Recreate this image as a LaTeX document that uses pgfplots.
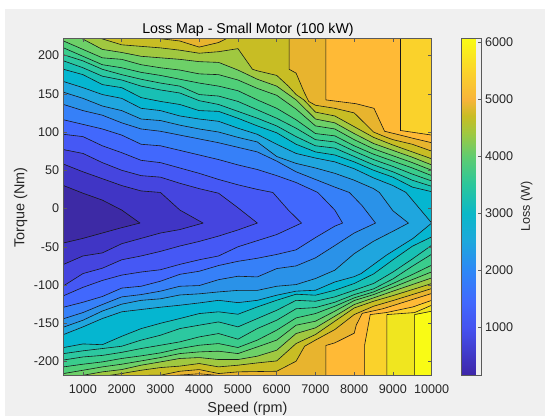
\documentclass[border=0pt]{standalone}
\usepackage{fontspec}
\setmainfont{Liberation Sans}
\usepackage{pgfplots}
\pgfplotsset{compat=1.18}
\definecolor{b0}{HTML}{3D2AA5}\definecolor{b1}{HTML}{4035C5}\definecolor{b2}{HTML}{4545DF}
\definecolor{b3}{HTML}{4558F5}\definecolor{b4}{HTML}{4168FD}\definecolor{b5}{HTML}{3680F8}
\definecolor{b6}{HTML}{2A92E8}\definecolor{b7}{HTML}{1FA6DE}\definecolor{b8}{HTML}{05B6D0}
\definecolor{b9}{HTML}{18C0B4}\definecolor{b10}{HTML}{2CC8A0}\definecolor{b11}{HTML}{3ACC8C}
\definecolor{b12}{HTML}{50CF78}\definecolor{b13}{HTML}{6DD068}\definecolor{b14}{HTML}{A0C840}
\definecolor{b15}{HTML}{C8BD24}\definecolor{b16}{HTML}{E8B42E}\definecolor{b17}{HTML}{FFBA36}
\definecolor{b18}{HTML}{FAD22B}\definecolor{b19}{HTML}{F0E61F}\definecolor{b20}{HTML}{F9FB15}
\definecolor{tx}{HTML}{262626}\definecolor{ax}{HTML}{5A5A5A}
\newcommand{\poly}[2]{\edef\tmp{\noexpand\addplot[fill=#1,draw=#1,line width=0.25pt,forget plot] coordinates {#2} --cycle;}\tmp}
\newcommand{\cln}[1]{\edef\tmp{\noexpand\addplot[draw=black!90,line width=0.6pt,forget plot] coordinates {#1};}\tmp}
% upper branches
\def\upA{(500,30)(1000,20)(1500,11)(2000,-2)(2470,-19)}
\def\upB{(500,58)(1000,48)(1500,39)(2000,30)(2500,23)(3000,21)(3500,-2)(4100,-19)}
\def\upC{(500,77)(1000,72)(1500,60)(2000,50)(2500,43)(3000,41)(3500,33)(4000,26)(4500,20)(5000,1)(5500,-19)}
\def\upD{(500,97)(1000,94)(1500,82)(2000,73)(2500,63)(3000,60)(3500,53)(4000,46)(4500,38)(5000,31)(5500,25)(5900,21)(6300,-2)(6640,-19)}
\def\upE{(500,116)(1000,110)(1500,104)(2000,96)(2500,84)(3000,82)(3500,76)(4000,70)(4500,64)(5000,57)(5500,51)(6000,43)(6500,34)(7060,21)(7500,-2)(7700,-19)}
\def\upF{(500,136)(1000,128)(1500,122)(2000,112)(2500,104)(3000,101)(3500,96)(4000,91)(4500,86)(5000,80)(5500,74)(6000,62)(6500,48)(7000,38)(7500,28)(7875,21)(8200,4)(8550,-19)}
\def\upG{(500,152)(1000,144)(1500,134)(2000,128)(2500,117)(3000,115)(3500,109)(4000,104)(4500,100)(5000,93)(5500,87)(6000,68)(6500,59)(7000,53)(7500,46)(8000,37)(8500,26)(8650,21)(9000,-3)(9400,-19)}
\def\upH{(500,166)(1000,158)(1500,149)(2000,144)(2500,131)(3000,128)(3500,121)(4000,117)(4500,114)(5000,105)(5500,97)(6000,84)(6500,72)(7000,66)(7500,61)(8000,52)(8500,40)(9000,30)(9337,21)(10000,-19)}
\def\upI{(500,182)(1000,175)(1500,162)(2000,158)(2500,145)(3000,140)(3500,136)(4000,128)(4500,127)(5000,118)(5500,108)(6000,99)(6500,84)(7000,74)(7500,70)(8000,61)(8500,50)(9000,41)(9500,28)(10000,22)}
\def\upJ{(500,193)(1000,184)(1500,173)(2000,168)(2500,160)(3000,155)(3500,151)(4000,141)(4500,136)(5000,127)(5500,118)(6000,108)(6500,94)(7000,82)(7500,79)(8000,68)(8500,57)(9000,48)(9500,37)(10000,29)}
\def\upK{(500,201)(1000,193)(1500,182)(2000,175)(2500,169)(3000,164)(3500,160)(4000,149)(4500,147)(5000,140)(5500,129)(6000,118)(6500,105)(7000,90)(7500,87)(8000,75)(8500,64)(9000,55)(9500,45)(10000,36)}
\def\upL{(500,210)(1000,199)(1500,188)(2000,184)(2500,178)(3000,174)(3500,169)(4000,164)(4500,160)(5000,154)(5500,142)(6000,131)(6500,116)(7000,98)(7500,95)(8000,82)(8500,71)(9000,62)(9500,53)(10000,43)}
\def\upM{(500,219)(1000,208)(1500,197)(2000,195)(2500,188)(3000,184)(3500,181)(4000,176)(4500,175)(5000,168)(5500,157)(6000,148)(6500,130)(7000,108)(7500,104)(8000,90)(8500,78)(9000,69)(9500,60)(10000,50)}
\def\upN{(980,222)(1500,208)(2000,204)(2500,199)(3000,197)(3500,195)(4000,192)(4500,191)(5000,181)(5500,169)(6000,160)(6500,142)(7000,117)(7500,112)(8000,98)(8500,85)(9000,76)(9500,67)(10000,57)}
\def\upO{(1480,222)(2000,214)(2500,212)(3000,210)(3500,207)(4000,203)(4500,205)(5000,209)(5375,182)(5500,180)(6000,174)(6300,160)(6500,149)(6700,142)(7000,126)(7500,121)(8000,107)(8500,93)(9000,83)(9500,74)(10000,65)}
\def\upPa{(3000,222)(3500,219)(4000,211)(4500,217)(4700,222)}
\def\upPb{(6322,222)(6322,182)(6500,177)(6700,153)(6825,140)(7000,135)(7500,131)(8000,125)(8500,100)(8784,94)(9000,90)(9500,84)(10000,75)}
\def\upQ{(7269,222)(7269,142)(8050,137)(8510,131)(8784,101)(9190,96)(9500,92)(10000,86)}
\def\upR{(9196,222)(9196,102)(10000,96)}
% lower branches
\def\loA{(500,-45)(1000,-39)(1500,-32)(2000,-25)(2470,-19)}
\def\loB{(500,-73)(1000,-62)(1500,-58)(2000,-46)(2500,-39)(3000,-32)(3500,-27.5)(4100,-19)}
\def\loC{(500,-101)(1000,-85)(1500,-78)(2000,-67)(2500,-62)(3000,-56)(3500,-49)(4000,-43)(4500,-36)(5000,-28)(5500,-19)}
\def\loD{(500,-114)(1000,-103)(1500,-94)(2000,-87)(2500,-83)(3000,-80)(3500,-73)(4000,-67)(4500,-62)(5000,-50)(5500,-42)(6000,-34)(6640,-19)}
\def\loE{(500,-129)(1000,-122.5)(1500,-115)(2000,-104)(2500,-101.6)(3000,-95)(3500,-86)(4000,-82)(4500,-74.5)(5000,-69)(5500,-65)(6000,-60)(6500,-54)(7000,-38)(7500,-23)(7700,-19)}
\def\loF{(500,-144)(1000,-136)(1500,-125.5)(2000,-115.5)(2500,-112.5)(3000,-108)(3500,-101.6)(4000,-100.7)(4500,-93)(5000,-88.5)(5500,-89.4)(6000,-78.5)(6500,-75)(7000,-64.5)(7500,-48.4)(8000,-32)(8550,-19)}
\def\loG{(500,-155)(1000,-146)(1500,-134)(2000,-125)(2500,-120)(3000,-118)(3500,-113)(4000,-111.5)(4500,-109)(5000,-107)(5500,-107)(6000,-101.6)(6500,-99.4)(7000,-91.5)(7500,-80.6)(8000,-59)(8500,-42.7)(9000,-29.7)(9400,-19)}
\def\loH{(500,-164.7)(1000,-154.7)(1500,-143.8)(2000,-135)(2500,-132)(3000,-129)(3500,-126.4)(4000,-123.4)(4500,-120)(5000,-123)(5500,-120)(6000,-113.3)(6500,-108)(7000,-106.8)(7500,-96)(8000,-89)(8180,-85)(8830,-61)(9520,-39)(10000,-19)}
\def\loI{(500,-181.7)(1000,-177)(1500,-178)(2000,-167)(2500,-157)(3000,-150)(3500,-143.8)(4000,-137.3)(4500,-135)(5000,-138.2)(5500,-128.6)(6000,-119.9)(6500,-112)(7000,-113.3)(7500,-106.8)(8000,-98)(8500,-85.5)(9000,-67)(9500,-49.3)(10000,-37)}
\def\loJ{(500,-189.6)(1000,-186)(1500,-183)(2000,-180)(2500,-172)(3000,-165.6)(3500,-156.9)(4000,-152.5)(4500,-148.2)(5000,-154.7)(5500,-143.8)(6000,-133)(6500,-120)(7000,-121.2)(7500,-115.5)(8000,-106.8)(8500,-98)(9000,-83)(9500,-66)(10000,-48)}
\def\loK{(500,-198)(1000,-194)(1500,-192)(2000,-188)(2500,-183)(3000,-178.7)(3500,-174.3)(4000,-167.8)(4500,-163.4)(5000,-170.8)(5500,-156.9)(6000,-146)(6500,-131)(7000,-129.5)(7500,-122.5)(8000,-112.5)(8500,-105)(9000,-92)(9500,-75.4)(10000,-59.7)}
\def\loL{(500,-207)(1000,-203.5)(1500,-200.5)(2000,-196)(2500,-192.6)(3000,-188.7)(3500,-183)(4000,-178.7)(4500,-176.5)(5000,-181.7)(5500,-172)(6000,-159)(6500,-143)(7000,-137.3)(7500,-127.7)(8000,-116.8)(8500,-109)(9000,-98)(9500,-86.3)(10000,-74)}
\def\loM{(500,-215.7)(1000,-211.4)(1500,-207)(2000,-203.5)(2500,-199.2)(3000,-194.8)(3500,-189.6)(4000,-187.4)(4500,-186.5)(5000,-189.6)(5500,-180.9)(6000,-172)(6500,-152.5)(7000,-147.3)(7500,-134.2)(8000,-120.3)(8500,-112.5)(9000,-102.9)(9500,-92.9)(10000,-82.8)}
\def\loN{(1000,-218)(1500,-213.5)(2000,-210.5)(2500,-204.8)(3000,-200.5)(3500,-196)(4000,-194.8)(4500,-197.4)(5000,-197.4)(5500,-193)(6000,-185.2)(6500,-163.4)(7000,-156)(7500,-140.8)(8000,-125.5)(8500,-116.8)(9000,-108)(9500,-99.4)(10000,-90.7)}
\def\loO{(1700,-218)(2000,-215.7)(2500,-211.4)(3000,-207.9)(3500,-206)(4000,-202.6)(4500,-207)(5000,-204.8)(5500,-201.8)(6000,-199.2)(6500,-176.5)(7000,-164.7)(7500,-147.3)(8000,-130)(8500,-121.2)(9000,-113.8)(9500,-106)(10000,-98)}
\def\loP{(2680,-218)(3000,-217.9)(3500,-212.7)(4000,-210.5)(4500,-215.7)(5000,-213.5)(5500,-213.1)(6000,-212.7)(6500,-199.6)(6720,-180)(7000,-172)(7500,-158.2)(8000,-138.6)(8500,-127.7)(9000,-120.3)(9500,-112.5)(10000,-104.6)}
\def\loQa{(3420,-218)(4000,-216)(4450,-218)}
\def\loQb{(7269,-218)(7269,-179)(7500,-175.6)(8000,-163)(8052,-152.5)(8207,-137)(8741,-131)(10000,-111)}
\def\loR{(8267,-218)(8267,-179)(8413,-138.6)(8827,-136)(9517,-128.6)(10000,-120)}
\def\loS{(8845,-218)(8845,-138.6)(9560,-136)(10000,-126.4)}
\def\loT{(9560,-218)(9560,-138.6)(10000,-134.2)}
\def\M{(500,-19)}
\def\Rr{(10000,-19)}
\def\TL{(500,222)}
\def\BL{(500,-218)}
\begin{document}
\begin{tikzpicture}[x=1pt,y=1pt]
\fill[white] (0,0) rectangle (545,416);
\fill[black!6] (5,0) rectangle (545,407);
\begin{axis}[
  at={(63.6pt,40.7pt)},anchor=south west,scale only axis,width=368.1pt,height=336.6pt,
  xmin=500,xmax=10000,ymin=-218,ymax=222,
  xtick={1000,2000,...,10000},ytick={-200,-150,...,200},
  scaled x ticks=false,scaled y ticks=false,
  axis on top,tick align=inside,major tick length=3.7pt,
  axis line style={ax,line width=0.6pt},tick style={ax,line width=0.5pt},
  tick label style={font=\fontsize{12.6}{14}\selectfont,text=tx},
  /pgf/number format/assume math mode=true,/pgf/number format/1000 sep={},
  xticklabel style={yshift=-6pt},yticklabel style={xshift=-1pt},
  colormap={par}{rgb255(0)=(62,38,168);rgb255(14)=(69,82,240);rgb255(22)=(65,105,253);rgb255(31)=(45,135,247);rgb255(40)=(29,168,220);rgb255(48)=(11,184,200);rgb255(57)=(44,199,154);rgb255(65)=(96,204,112);rgb255(72)=(160,200,64);rgb255(77)=(200,189,36);rgb255(82)=(248,180,58);rgb255(90)=(251,210,43);rgb255(100)=(249,251,21)},
  colorbar,point meta min=165,point meta max=6058,
  colorbar style={at={(1.0804,0)},anchor=south west,scale only axis,width=20.3pt,height=336.6pt,
    ytick={1000,2000,...,6000},yticklabel pos=right,ytick pos=right,tick align=inside,
    major tick length=3.7pt,axis line style={ax,line width=0.6pt},tick style={ax,line width=0.5pt},
    tick label style={font=\fontsize{12.6}{14}\selectfont,text=tx},
    /pgf/number format/assume math mode=true,/pgf/number format/1000 sep={}},
]
\poly{b20}{(500,-218)(10000,-218)(10000,222)(500,222)}
% region below each level, painted from the highest level down
\poly{b19}{\BL\loT\Rr\M\TL(10000,222)\Rr\M}
\poly{b18}{\BL\loS\Rr\M\TL(10000,222)\Rr\M}
\poly{b17}{\M\TL\upR\Rr}\poly{b17}{\M\BL\loR\Rr}
\poly{b16}{\M\TL\upQ\Rr}\poly{b16}{\M\BL\loQa\loQb\Rr}
\poly{b15}{\M\TL\upPa\upPb\Rr}\poly{b15}{\M\BL\loP\Rr}
\poly{b14}{\M\TL\upO\Rr}\poly{b14}{\M\BL\loO\Rr}
\poly{b13}{\M\TL\upN\Rr}\poly{b13}{\M\BL\loN\Rr}
\poly{b12}{\M\upM\Rr}\poly{b12}{\M\loM\Rr}
\poly{b11}{\M\upL\Rr}\poly{b11}{\M\loL\Rr}
\poly{b10}{\M\upK\Rr}\poly{b10}{\M\loK\Rr}
\poly{b9}{\M\upJ\Rr}\poly{b9}{\M\loJ\Rr}
\poly{b8}{\M\upI\Rr}\poly{b8}{\M\loI\Rr}
\poly{b7}{\M\upH}\poly{b7}{\M\loH}
\poly{b6}{\M\upG}\poly{b6}{\M\loG}
\poly{b5}{\M\upF}\poly{b5}{\M\loF}
\poly{b4}{\M\upE}\poly{b4}{\M\loE}
\poly{b3}{\M\upD}\poly{b3}{\M\loD}
\poly{b2}{\M\upC}\poly{b2}{\M\loC}
\poly{b1}{\M\upB}\poly{b1}{\M\loB}
\poly{b0}{\M\upA}\poly{b0}{\M\loA}
% contour lines
\cln{\upA}\cln{\upB}\cln{\upC}\cln{\upD}\cln{\upE}\cln{\upF}\cln{\upG}\cln{\upH}\cln{\upI}
\cln{\upJ}\cln{\upK}\cln{\upL}\cln{\upM}\cln{\upN}\cln{\upO}\cln{\upPa}\cln{\upPb}\cln{\upQ}\cln{\upR}
\cln{\loA}\cln{\loB}\cln{\loC}\cln{\loD}\cln{\loE}\cln{\loF}\cln{\loG}\cln{\loH}\cln{\loI}
\cln{\loJ}\cln{\loK}\cln{\loL}\cln{\loM}\cln{\loN}\cln{\loO}\cln{\loP}\cln{\loQa}\cln{\loQb}\cln{\loR}\cln{\loS}\cln{\loT}
\end{axis}
\node[font=\fontsize{14.2}{16}\selectfont,text=black] at (248,386) {Loss Map - Small Motor (100 kW)};
\node[font=\fontsize{14.4}{16}\selectfont,text=tx] at (247.5,7) {Speed (rpm)};
\node[font=\fontsize{14.4}{16}\selectfont,text=tx,rotate=90] at (20.7,208.3) {Torque (Nm)};
\node[font=\fontsize{12.6}{14}\selectfont,text=tx,rotate=90] at (526.7,209.3) {Loss (W)};
\end{tikzpicture}
\end{document}
